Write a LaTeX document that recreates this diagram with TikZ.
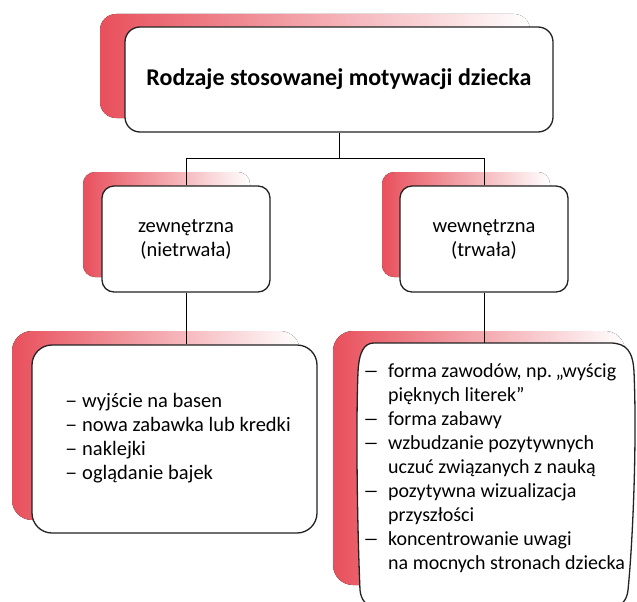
\documentclass[tikz,border=0pt]{standalone}
\usepackage{fontspec}
\setmainfont{Carlito}
\usetikzlibrary{backgrounds}
\definecolor{shred}{RGB}{232,80,92}
\definecolor{boxline}{RGB}{35,35,35}
\newcommand{\dashL}{\makebox[17pt][l]{\scalebox{1.2}[1]{–}}}
\newcommand{\dashR}{\makebox[25pt][l]{\scalebox{1.6}[1]{–}}}
\begin{document}
\begin{tikzpicture}[x=1pt,y=-1pt,
 box/.style={draw=boxline, line width=1.3pt, fill=white, rounded corners=#1, inner sep=0pt},
 shadowbox/.style={left color=shred, right color=white, rounded corners=#1},
 link/.style={draw=black, line width=1pt},
 bodytext/.style={font=\fontsize{20.5}{24}\selectfont, align=left, inner sep=0pt},
 bodytextR/.style={font=\fontsize{20}{24}\selectfont, align=left, inner sep=0pt},
 midtext/.style={font=\fontsize{20.5}{24}\selectfont, align=center},
 titletext/.style={font=\bfseries\fontsize{24}{28}\selectfont}]
\useasboundingbox (0,0) rectangle (637,602);
\clip (0,0) rectangle (637,602);

% boxes
\node[box=15pt, titletext, minimum width=428pt, minimum height=105pt] (top) at (339,79.5) {Rodzaje stosowanej motywacji dziecka};
\node[box=12pt, midtext, minimum width=168pt, minimum height=106pt] (ml) at (186,239) {zewnętrzna\\(nietrwała)};
\node[box=12pt, midtext, minimum width=168pt, minimum height=106pt] (mr) at (484,239) {wewnętrzna\\(trwała)};
\node[box=20pt, minimum width=285pt, minimum height=188pt] (bl) at (174.5,439) {};
\node[inner sep=0pt, minimum width=278pt, minimum height=265pt] (br) at (496,475.5) {};

% bottom right box outline (slightly barrel shaped)
\draw[draw=boxline, line width=1.3pt, fill=white]
 (374,343) -- (610,343)
 .. controls (627,343) and (633,352) .. (634,372)
 .. controls (637,440) and (633,540) .. (628,590)
 .. controls (627,600) and (622,606) .. (612,608)
 -- (376,608)
 .. controls (366,606) and (361,600) .. (360,590)
 .. controls (357,520) and (356,420) .. (358,372)
 .. controls (359,352) and (364,343) .. (374,343) -- cycle;

% texts of the bottom boxes
\node[bodytext, anchor=west] (bltext) at (65,439) {\begin{tabular}{@{}l@{}l@{}}
\dashL & wyjście na basen\\
\dashL & nowa zabawka lub kredki\\
\dashL & naklejki\\
\dashL & oglądanie bajek
\end{tabular}};
\node[bodytextR, anchor=west] (brtext) at (363,469) {\begin{tabular}{@{}l@{}l@{}}
\dashR & forma zawodów, np.\,„wyścig\\
 & pięknych literek”\\
\dashR & forma zabawy\\
\dashR & wzbudzanie pozytywnych\\
 & uczuć związanych z nauką\\
\dashR & pozytywna wizualizacja\\
 & przyszłości\\
\dashR & koncentrowanie uwagi\\
 & na mocnych stronach dziecka
\end{tabular}};

\begin{scope}[on background layer]
 % shadows
 \fill[shadowbox=16pt] (100,14) rectangle (530,118);
 \fill[shadowbox=12pt] (83,172) rectangle (250,277);
 \fill[shadowbox=12pt] (382,172) rectangle (550,277);
 \fill[shadowbox=20pt] (12,331) rectangle (300,520);
 \fill[shadowbox=20pt] (333,331) rectangle (625,585);
 % connectors
 \coordinate (j) at (top.south |- 0,158);
 \draw[link] (top.south) -- (j);
 \draw[link] (ml.north |- j) -- (mr.north |- j);
 \draw[link] (ml.north |- j) -- (ml.north);
 \draw[link] (mr.north |- j) -- (mr.north);
 \draw[link] (ml.south) -- (ml.south |- bl.north);
 \draw[link] (mr.south) -- (mr.south |- br.north);
\end{scope}
\end{tikzpicture}
\end{document}
